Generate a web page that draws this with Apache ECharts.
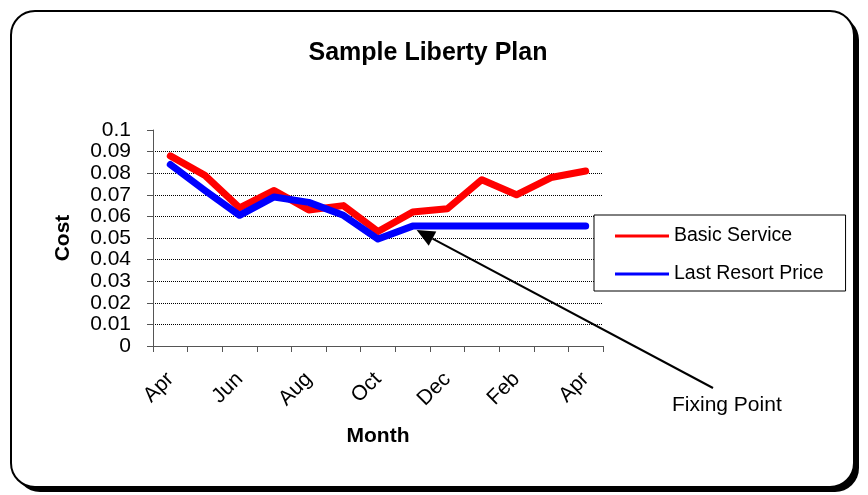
<!DOCTYPE html>
<html><head><meta charset="utf-8">
<script src="https://cdn.jsdelivr.net/npm/echarts@6/dist/echarts.min.js"></script>
<style>html,body{margin:0;padding:0;background:#fff}#c{width:868px;height:495px}</style>
</head><body><div id="c"></div>
<script>
const months = ['Apr','May','Jun','Jul','Aug','Sep','Oct','Nov','Dec','Jan','Feb','Mar','Apr'];
const basicService = [0.088,0.079,0.064,0.072,0.063,0.065,0.053,0.062,0.0635,0.077,0.070,0.078,0.081];
const lastResort = [0.084,0.072,0.0605,0.069,0.0665,0.0605,0.0495,0.0555,0.0555,0.0555,0.0555,0.0555,0.0555];
const fixingIndex = 7;

const font = 'Liberation Sans, Arial, sans-serif';
const chart = echarts.init(document.getElementById('c'));
chart.setOption({
  backgroundColor: '#fff',
  animation: false,
  title: { text: 'Sample Liberty Plan', left: 423, top: 36, textAlign: 'center',
    textStyle: { fontFamily: font, fontSize: 25, fontWeight: 'bold', color: '#000' } },
  grid: { left: 153, right: 265, top: 130, bottom: 149 },
  legend: {
    left: 594, top: 215, orient: 'vertical',
    data: [
      { name: 'Basic Service', icon: 'rect' },
      { name: 'Last Resort Price', icon: 'rect' }
    ],
    itemWidth: 54, itemHeight: 3, itemGap: 18,
    padding: [11, 22, 7, 21],
    borderColor: '#000', borderWidth: 1, backgroundColor: '#fff',
    textStyle: { fontFamily: font, fontSize: 19.5, color: '#000' }
  },
  xAxis: {
    type: 'category', data: months, boundaryGap: true,
    name: 'Month', nameLocation: 'middle', nameGap: 80,
    nameTextStyle: { fontFamily: font, fontSize: 21, fontWeight: 'bold', color: '#000' },
    axisLine: { lineStyle: { color: '#555', width: 1 } },
    axisTick: { show: true, interval: 0, length: 6, lineStyle: { color: '#555' } },
    axisLabel: { interval: 1, rotate: 45, margin: 30, fontFamily: font, fontSize: 21, color: '#000' },
    splitLine: { show: false }
  },
  yAxis: {
    type: 'value', min: 0, max: 0.1, interval: 0.01,
    name: 'Cost', nameLocation: 'middle', nameGap: 79, nameRotate: 90,
    nameTextStyle: { fontFamily: font, fontSize: 21, fontWeight: 'bold', color: '#000' },
    axisLine: { show: true, lineStyle: { color: '#555', width: 1 } },
    axisTick: { show: true, inside: false, length: 6, lineStyle: { color: '#555' } },
    axisLabel: { margin: 22, fontFamily: font, fontSize: 21, color: '#000',
      formatter: v => String(+v.toFixed(2)) },
    splitLine: { show: true, showMinLine: false, showMaxLine: false,
      lineStyle: { color: '#000', type: 'dotted', width: 1 } }
  },
  series: [
    { name: 'Basic Service', type: 'line', data: basicService, symbol: 'none',
      lineStyle: { color: '#ff0000', width: 7, cap: 'round', join: 'round' }, itemStyle: { color: '#ff0000' } },
    { name: 'Last Resort Price', type: 'line', data: lastResort, symbol: 'none',
      lineStyle: { color: '#0000ff', width: 7, cap: 'round', join: 'round' }, itemStyle: { color: '#0000ff' } }
  ]
});

const tip = chart.convertToPixel({ seriesIndex: 1 }, [fixingIndex, lastResort[fixingIndex]]);
const tail = [713, 388];
const tx = tip[0] + 4, ty = tip[1] + 4;
const ang = Math.atan2(ty - tail[1], tx - tail[0]);
const L = 18, W = 8;
const bx = tx - L * Math.cos(ang), by = ty - L * Math.sin(ang);
const px = -Math.sin(ang) * W, py = Math.cos(ang) * W;
chart.setOption({
  graphic: [
    { type: 'rect', shape: { x: 16, y: 16, width: 843, height: 476, r: 24 },
      style: { fill: '#000' }, z: -2 },
    { type: 'rect', shape: { x: 11, y: 11, width: 843, height: 476, r: 24 },
      style: { fill: '#fff', stroke: '#000', lineWidth: 2 }, z: -1 },
    { type: 'line', shape: { x1: tail[0], y1: tail[1], x2: bx, y2: by },
      style: { stroke: '#000', lineWidth: 2 }, z: 100 },
    { type: 'polygon', shape: { points: [[tx, ty], [bx + px, by + py], [bx - px, by - py]] },
      style: { fill: '#000' }, z: 100 },
    { type: 'text', left: 672, top: 395,
      style: { text: 'Fixing Point', font: '21px ' + font, fill: '#000' }, z: 100 }
  ]
});
</script></body></html>
